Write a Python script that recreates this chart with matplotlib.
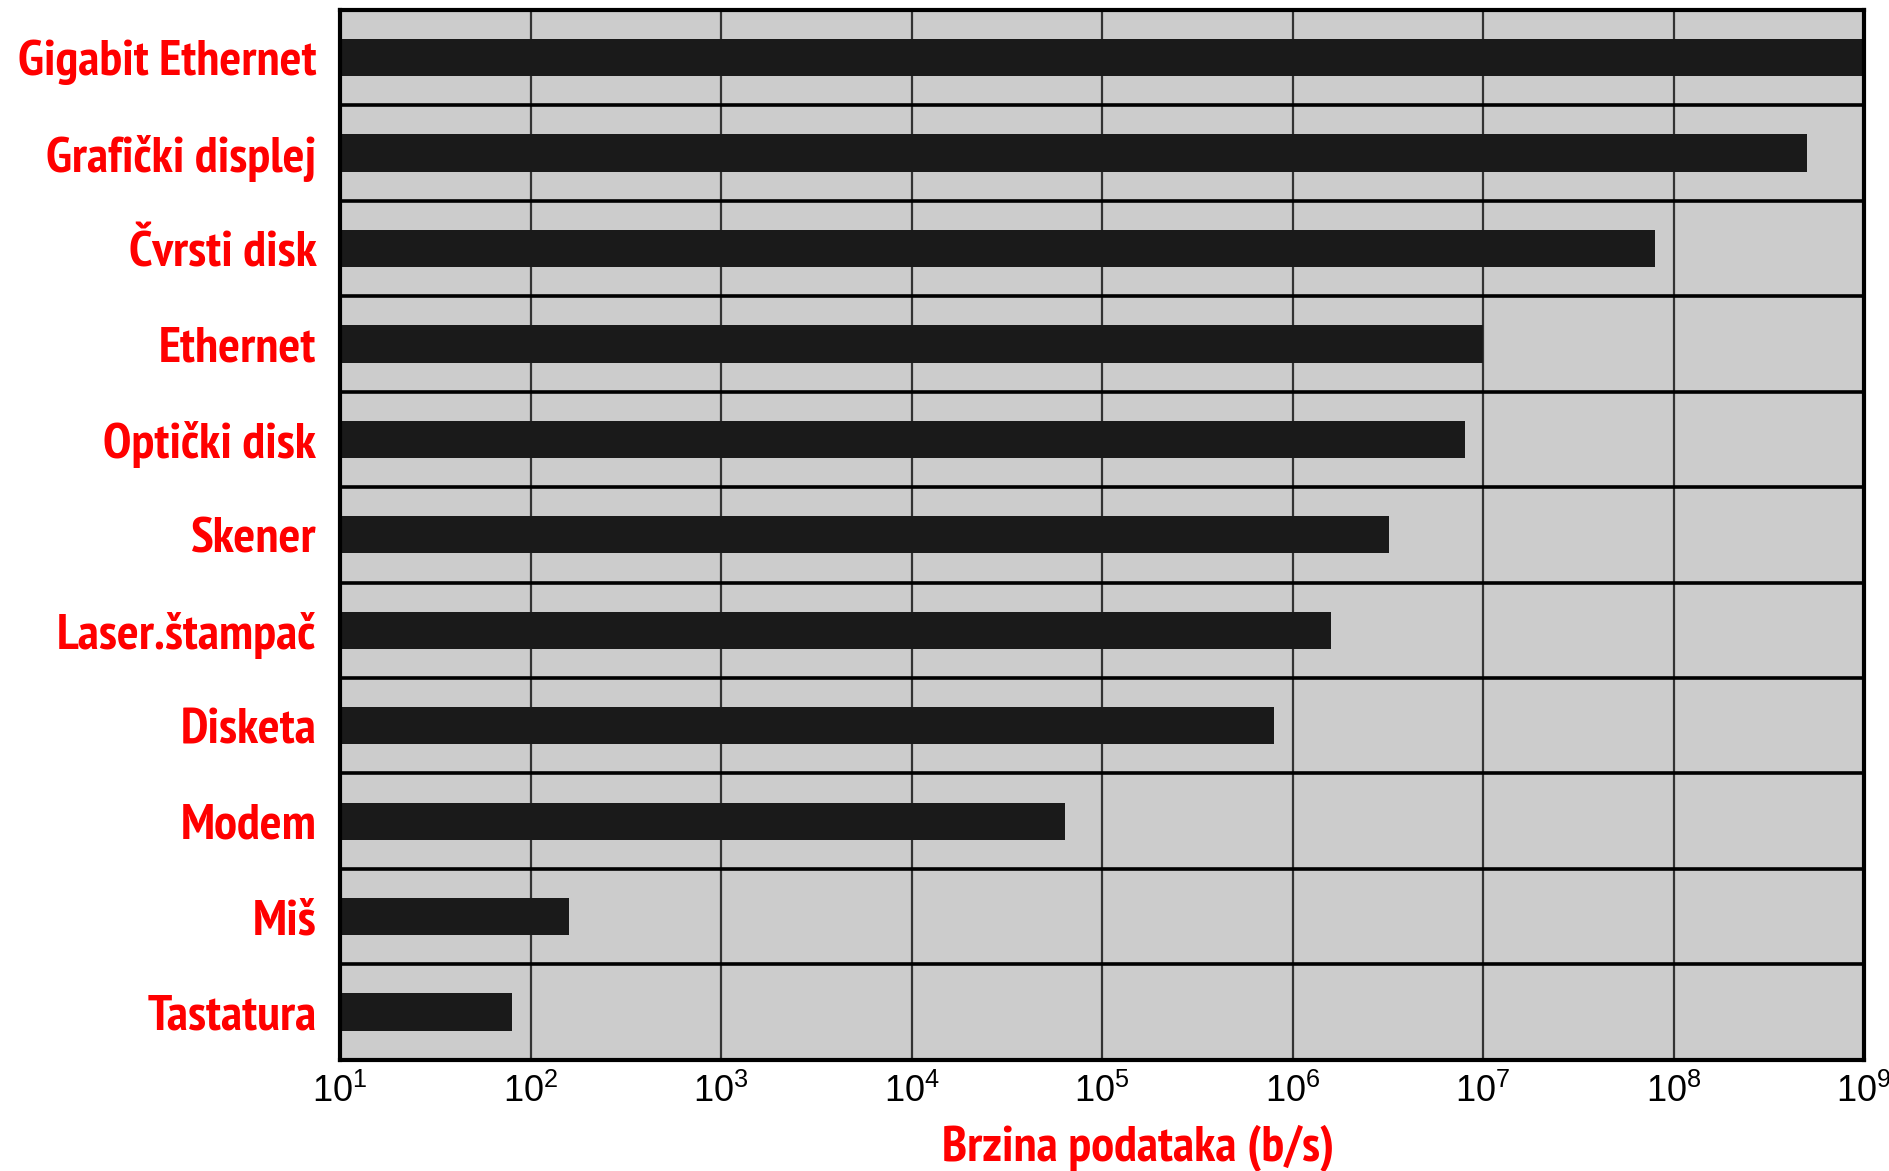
import numpy as np
import matplotlib.pyplot as plt

# data (bit rates in b/s)
devices = ['Gigabit Ethernet', 'Grafički displej', 'Čvrsti disk', 'Ethernet',
           'Optički disk', 'Skener', 'Laser.štampač', 'Disketa', 'Modem',
           'Miš', 'Tastatura']
rates = [1e9, 5e8, 8e7, 1e7, 8e6, 3.2e6, 1.6e6, 8e5, 6.4e4, 160, 80]
decades = [1, 2, 3, 4, 5, 6, 7, 8, 9]

# condensed bold for the red labels
label_font = ['PT Sans Narrow', 'Roboto Condensed', 'DejaVu Sans']
plt.rcParams['font.family'] = ['Liberation Sans', 'DejaVu Sans']
plt.rcParams['mathtext.fontset'] = 'custom'
plt.rcParams['mathtext.rm'] = 'Liberation Sans'

fig = plt.figure(figsize=(18.89, 11.71), dpi=100)
ax = fig.add_axes([0.18, 0.095, 0.8068, 0.8965])
ax.set_facecolor('#cccccc')

y = np.arange(len(devices))
ax.barh(y, np.array(rates) - 10, left=10, height=0.39, color='#1a1a1a', zorder=3)

ax.set_xscale('log')
ax.set_xlim(10, 1e9)
ax.set_ylim(len(devices) - 0.5, -0.5)

# vertical decade lines and row separators
for d in decades[1:-1]:
    ax.axvline(10.0 ** d, color='#333333', lw=1.6, zorder=1)
for k in range(len(devices) - 1):
    ax.axhline(k + 0.5, color='black', lw=2.6, zorder=2)

ax.set_xticks([10.0 ** d for d in decades])
ax.set_xticklabels(['$\\mathregular{10^{%d}}$' % d for d in decades])
ax.xaxis.set_minor_locator(plt.NullLocator())
ax.tick_params(axis='x', length=0, pad=10, labelsize=26, labelcolor='black')

ax.set_yticks(y)
ax.set_yticklabels(devices, color='red', fontsize=37, fontweight='bold',
                   family=label_font, fontstretch='condensed')
ax.tick_params(axis='y', length=0, pad=17)

for sp in ax.spines.values():
    sp.set_linewidth(3)
    sp.set_color('black')
    sp.set_zorder(5)

ax.set_xlabel('Brzina podataka (b/s)', color='red', fontsize=37,
              fontweight='bold', family=label_font, fontstretch='condensed')
ax.xaxis.set_label_coords((1138 - 340) / 1523, -0.062)

fig.savefig('out.png', dpi=100)
